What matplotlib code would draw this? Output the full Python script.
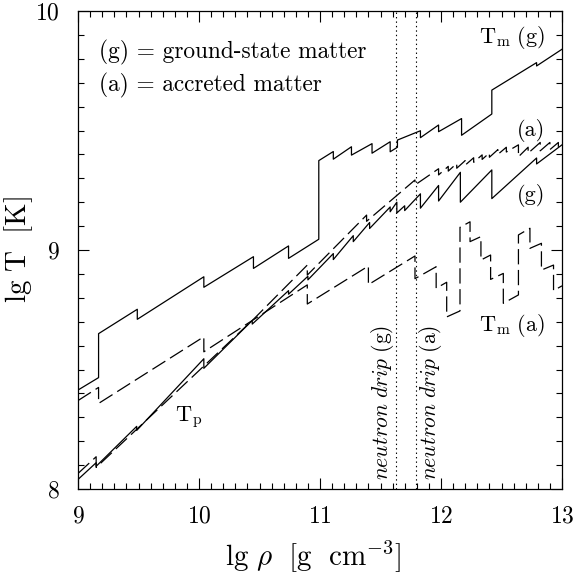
import matplotlib
matplotlib.use('Agg')
import matplotlib.pyplot as plt
from matplotlib.ticker import MultipleLocator

plt.rcParams['mathtext.fontset'] = 'cm'
plt.rcParams['font.family'] = 'serif'
plt.rcParams['font.serif'] = ['cmr10']
plt.rcParams['axes.formatter.use_mathtext'] = True
plt.rcParams['lines.scale_dashes'] = False

# ---- data (vertices of the step-like curves) ----
tmg_x = [9.0, 9.17, 9.17, 9.49, 9.49, 10.04, 10.04, 10.45, 10.45, 10.74, 10.74, 10.99, 10.99,
         11.11, 11.11, 11.26, 11.26, 11.43, 11.43, 11.58, 11.58, 11.64, 11.64, 11.83, 11.83,
         11.98, 11.98, 12.17, 12.17, 12.42, 12.42, 12.79, 12.79, 13.0]
tmg_y = [8.414, 8.466, 8.65, 8.752, 8.71, 8.888, 8.844, 8.972, 8.923, 9.017, 8.965, 9.045, 9.374,
         9.412, 9.380, 9.432, 9.397, 9.445, 9.405, 9.453, 9.411, 9.43, 9.46, 9.499, 9.470,
         9.523, 9.495, 9.55, 9.48, 9.569, 9.669, 9.784, 9.77, 9.84]

tma_x = [9.0, 9.17, 9.17, 10.04, 10.04, 10.895, 10.895, 11.40, 11.40, 11.785, 11.785, 11.96, 11.96,
         12.047, 12.047, 12.157, 12.157, 12.24, 12.24, 12.33, 12.33, 12.41, 12.41, 12.515, 12.515,
         12.64, 12.64, 12.735, 12.735, 12.83, 12.83, 12.93, 12.93, 13.0]
tma_y = [8.37, 8.425, 8.358, 8.637, 8.574, 8.854, 8.774, 8.933, 8.855, 8.975, 8.88, 8.93, 8.84,
         8.865, 8.72, 8.745, 9.095, 9.118, 9.035, 9.056, 8.958, 8.979, 8.877, 8.902, 8.777,
         8.812, 9.063, 9.091, 9.007, 9.028, 8.916, 8.937, 8.83, 8.85]

tpg_x = [9.0, 9.15, 9.15, 9.485, 9.485, 10.04, 10.04, 10.44, 10.44, 10.74, 10.74, 10.9, 10.9,
         11.11, 11.11, 11.275, 11.275, 11.41, 11.41, 11.58, 11.58, 11.635, 11.635, 11.7, 11.7,
         11.83, 11.83, 11.98, 11.98, 12.16, 12.16, 12.42, 12.42, 12.79, 12.79, 13.0]
tpg_y = [8.040, 8.110, 8.095, 8.262, 8.245, 8.545, 8.505, 8.705, 8.69, 8.83, 8.815, 8.89, 8.875,
         8.985, 8.96, 9.06, 9.035, 9.115, 9.09, 9.18, 9.16, 9.2, 9.155, 9.185, 9.165,
         9.235, 9.175, 9.27, 9.205, 9.325, 9.2, 9.335, 9.215, 9.385, 9.36, 9.44]

tpa_x = [9.0, 9.15, 9.15, 10.45, 10.895, 10.895, 11.385, 11.385, 11.785, 11.785, 11.98, 11.98,
         12.06, 12.06, 12.13, 12.13, 12.20, 12.20, 12.27, 12.27, 12.34, 12.34, 12.40, 12.40,
         12.47, 12.47, 12.54, 12.54, 12.64, 12.64, 12.72, 12.72, 12.82, 12.82, 12.90, 12.90,
         12.97, 12.97, 13.0]
tpa_y = [8.065, 8.135, 8.09, 8.71, 8.937, 8.895, 9.146, 9.12, 9.293, 9.272, 9.34, 9.314,
         9.35, 9.33, 9.362, 9.342, 9.374, 9.355, 9.386, 9.367, 9.398, 9.379, 9.406, 9.388,
         9.42, 9.40, 9.43, 9.41, 9.44, 9.39, 9.43, 9.405, 9.45, 9.415, 9.45, 9.42,
         9.45, 9.43, 9.44]

drip_g = 11.63
drip_a = 11.79

fig = plt.figure(figsize=(5.74, 5.75), dpi=100)
ax = fig.add_axes([78/574, 1-489/575, (562-78)/574, (489-11)/575])

lw = 0.9
dash = (0, (11, 4))
ax.plot(tmg_x, tmg_y, color='black', lw=lw)
ax.plot(tpg_x, tpg_y, color='black', lw=lw)
ax.plot(tma_x, tma_y, color='black', lw=lw, ls=dash)
ax.plot(tpa_x, tpa_y, color='black', lw=lw, ls=dash)
ax.axvline(drip_g, color='black', lw=0.8, ls=(0, (1, 2.2)))
ax.axvline(drip_a, color='black', lw=0.8, ls=(0, (1, 2.2)))

ax.set_xlim(9, 13)
ax.set_ylim(8, 10)
ax.xaxis.set_major_locator(MultipleLocator(1))
ax.xaxis.set_minor_locator(MultipleLocator(0.1))
ax.yaxis.set_major_locator(MultipleLocator(1))
ax.yaxis.set_minor_locator(MultipleLocator(0.1))
ax.tick_params(which='both', direction='in', top=True, right=True, width=0.8)
ax.tick_params(which='major', length=8, labelsize=17)
ax.tick_params(axis='x', which='major', pad=12)
ax.tick_params(axis='y', which='major', pad=13)
ax.tick_params(which='minor', length=4)
for s in ax.spines.values():
    s.set_linewidth(0.9)

ax.set_xlabel(r'$\mathrm{lg}\ \rho\ \ [\mathrm{g\ \ cm^{-3}}]$', fontsize=21)
ax.set_ylabel(r'$\mathrm{lg\ T}\ \ [\mathrm{K}]$', fontsize=21)
ax.xaxis.set_label_coords(0.485, -0.105)
ax.yaxis.set_label_coords(-0.089, 0.5)

fs = 16
ax.text(9.174, 9.828, '(g) = ground-state matter', fontsize=16.8, va='center', ha='left')
ax.text(9.174, 9.690, '(a) = accreted matter', fontsize=16.8, va='center', ha='left')
ax.text(12.86, 9.891, r'$\mathrm{T_m\ (g)}$', fontsize=fs, va='center', ha='right')
ax.text(12.86, 9.498, '(a)', fontsize=fs, va='center', ha='right')
ax.text(12.86, 9.23, '(g)', fontsize=fs, va='center', ha='right')
ax.text(12.86, 8.686, r'$\mathrm{T_m\ (a)}$', fontsize=fs, va='center', ha='right')
ax.text(9.80, 8.297, r'$\mathrm{T_p}$', fontsize=fs, va='center', ha='left')
ax.text(11.52, 8.364, r'$\mathit{neutron\ drip}\ \mathrm{(g)}$', fontsize=15.5,
        rotation=90, va='center', ha='center')
ax.text(11.915, 8.364, r'$\mathit{neutron\ drip}\ \mathrm{(a)}$', fontsize=15.5,
        rotation=90, va='center', ha='center')

fig.savefig('out.png', dpi=100)
